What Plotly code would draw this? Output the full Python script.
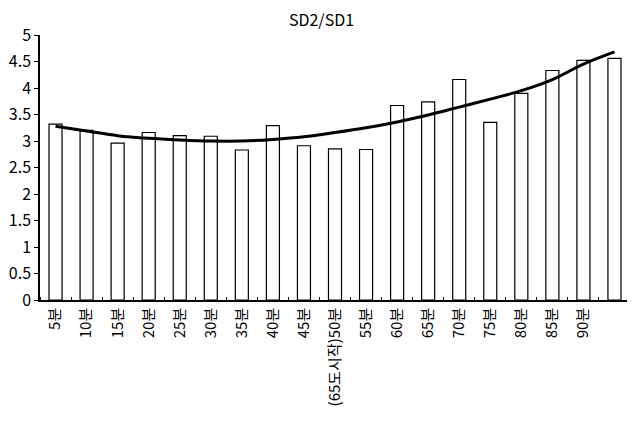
import plotly.graph_objects as go

categories = ["5분", "10분", "15분", "20분", "25분", "30분", "35분", "40분", "45분",
              "(65도시작)50분", "55분", "60분", "65분", "70분", "75분", "80분", "85분", "90분", ""]
ratio_values = [3.32, 3.20, 2.96, 3.16, 3.10, 3.09, 2.83, 3.29, 2.91,
                2.85, 2.84, 3.67, 3.74, 4.16, 3.35, 3.90, 4.33, 4.52, 4.56]
trend_values = [3.28, 3.19, 3.10, 3.05, 3.02, 3.00, 3.00, 3.03, 3.08,
                3.16, 3.25, 3.36, 3.49, 3.64, 3.79, 3.95, 4.16, 4.45, 4.68]
y_ticks = [0, 0.5, 1, 1.5, 2, 2.5, 3, 3.5, 4, 4.5, 5]
y_tick_labels = ["0", "0.5", "1", "1.5", "2", "2.5", "3", "3.5", "4", "4.5", "5"]

x_pos = list(range(len(categories)))
FONT = "Noto Sans CJK KR"

fig = go.Figure()
fig.add_trace(go.Bar(
    x=x_pos, y=ratio_values, width=0.42,
    marker=dict(color="white", line=dict(color="black", width=1.2)),
    showlegend=False,
))
fig.add_trace(go.Scatter(
    x=x_pos, y=trend_values, mode="lines",
    line=dict(color="black", width=3, shape="spline"),
    showlegend=False,
))

fig.update_layout(
    width=627, height=414,
    margin=dict(l=32, r=5, t=27, b=122, autoexpand=False),
    paper_bgcolor="white", plot_bgcolor="white",
    font=dict(family=FONT, color="black"),
    title=dict(text="SD2/SD1", x=0.5, xanchor="center", y=0.969, yanchor="middle",
               font=dict(family=FONT, size=16, color="black"), automargin=False),
)
fig.update_xaxes(
    range=[-0.5, len(categories) - 0.5], automargin=False,
    tickmode="array", tickvals=x_pos, ticktext=categories,
    tickangle=-90, tickfont=dict(family=FONT, size=15, color="black"),
    showline=True, linecolor="black", linewidth=1.5,
    ticks="", showgrid=False, zeroline=False,
    minor=dict(tick0=0.5, dtick=1, ticks="inside", ticklen=3, tickcolor="black"),
)
fig.update_yaxes(
    range=[0, 5], automargin=False, tickmode="array", tickvals=y_ticks, ticktext=y_tick_labels,
    tickfont=dict(family=FONT, size=16, color="black"),
    showline=True, linecolor="black", linewidth=1.5,
    ticks="outside", ticklen=4, tickcolor="black",
    showgrid=False, zeroline=False,
)

fig.write_html("out.html")
